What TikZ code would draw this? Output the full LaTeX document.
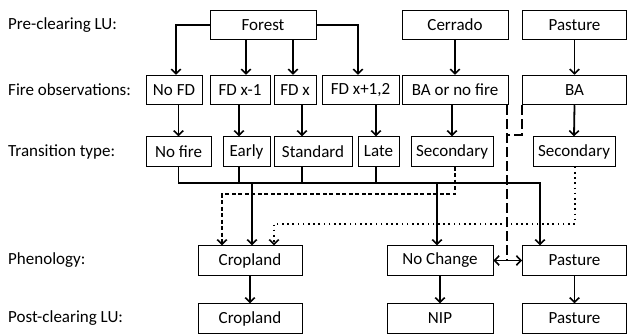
\documentclass[tikz,border=0pt]{standalone}
\usepackage{fontspec}
\setmainfont{Carlito}
\usetikzlibrary{arrows.meta}
\begin{document}
\begin{tikzpicture}[x=1pt,y=-1pt,
  box/.style={draw,line width=1pt,minimum height=29.5pt,inner sep=0pt,font=\fontsize{17}{19}\selectfont},
  lab/.style={anchor=west,inner sep=0pt,font=\fontsize{17}{19}\selectfont},
  conn/.style={line width=1.8pt},
  arr/.style={conn,-{Straight Barb[length=4.5pt,width=9.5pt,line width=1.6pt]}},
  dsh/.style={arr,dash pattern=on 4pt off 2.5pt},
  dts/.style={arr,dash pattern=on 1.6pt off 3.6pt},
  ldsh/.style={conn,dash pattern=on 10pt off 4pt},
  darr/.style={conn,{Straight Barb[length=4.5pt,width=9.5pt,line width=1.6pt]}-{Straight Barb[length=4.5pt,width=9.5pt,line width=1.6pt]}}]
\useasboundingbox (0,0) rectangle (627,336);
% labels
\node[lab] (l1) at (8,25) {Pre-clearing LU:};
\node[lab] (l2) at (8,90) {Fire observations:};
\node[lab] (l3) at (8,151.5) {Transition type:};
\node[lab] (l4) at (8,260.5) {Phenology:};
\node[lab] (l5) at (8,318.5) {Post-clearing LU:};
% row 1
\node[box,minimum width=106pt] (forest) at (263,25) {Forest};
\node[box,minimum width=106pt] (cerrado) at (455,25) {Cerrado};
\node[box,minimum width=104pt] (pasture) at (574.5,25) {Pasture};
% row 2
\node[box,minimum width=56pt] (nofd) at (174,90) {No FD};
\node[box,minimum width=60pt] (fdx1) at (240,90) {FD x-1};
\node[box,minimum width=42pt] (fdx) at (295,90) {FD x};
\node[box,minimum width=77pt] (fdx12) at (360.5,90) {FD x+1,2};
\node[box,minimum width=106pt] (banf) at (455,90) {BA or no fire};
\node[box,minimum width=104pt] (ba) at (574.5,90) {BA};
% row 3
\node[box,minimum width=65pt] (nofire) at (178.5,151.5) {No fire};
\node[box,minimum width=47pt] (early) at (246.5,151.5) {Early};
\node[box,minimum width=78pt] (standard) at (313,151.5) {Standard};
\node[box,minimum width=41pt] (late) at (378.5,151.5) {Late};
\node[box,minimum width=82pt] (sec) at (452,151.5) {Secondary};
\node[box,minimum width=82pt] (sec2) at (574,151.5) {Secondary};
% row 4
\node[box,minimum width=104pt] (cropp) at (250,260.5) {Cropland};
\node[box,minimum width=106pt] (nochange) at (440,260.5) {No Change};
\node[box,minimum width=104pt] (pastp) at (574.5,260.5) {Pasture};
% row 5
\node[box,minimum width=104pt] (cropl) at (250,318.5) {Cropland};
\node[box,minimum width=106pt] (nip) at (440,318.5) {NIP};
\node[box,minimum width=104pt] (pastl) at (574.5,318.5) {Pasture};
% row 1 -> row 2
\draw[arr] (forest.west) -| ([xshift=2pt]nofd.north);
\draw[arr] ([xshift=6pt]fdx1.north |- forest.south) -- ([xshift=6pt]fdx1.north);
\draw[arr] ([xshift=-2pt]fdx.north |- forest.south) -- ([xshift=-2pt]fdx.north);
\draw[arr] (forest.east) -| ([xshift=-2.5pt]fdx12.north);
\draw[arr] (banf.north |- cerrado.south) -- (banf.north);
\draw[arr] (pasture.south) -- (ba.north);
% row 2 -> row 3
\draw[arr] (nofire.north |- nofd.south) -- (nofire.north);
\draw[arr] ([xshift=-1pt]fdx1.south) -- ([xshift=-1pt]fdx1.south |- early.north);
\draw[arr] ([xshift=7pt]fdx.south) -- ([xshift=7pt]fdx.south |- standard.north);
\draw[arr] ([xshift=-2.5pt]late.north |- fdx12.south) -- ([xshift=-2.5pt]late.north);
\draw[arr] (sec.north |- banf.south) -- (sec.north);
\draw[arr] (ba.south) -- (sec2.north);
% bus
\coordinate (bus) at ([yshift=-16pt]nofire.south);
\draw[arr] (nofire.south) -- (bus) -| ([xshift=-34.5pt]pastp.north);
\draw[conn] ([xshift=-7.5pt]early.south) -- ([xshift=-7.5pt]early.south |- bus);
\draw[conn] ([xshift=-11pt]standard.south) -- ([xshift=-11pt]standard.south |- bus);
\draw[conn] ([xshift=-2.5pt]late.south) -- ([xshift=-2.5pt]late.south |- bus);
\draw[arr] ([xshift=2pt]cropp.north |- bus) -- ([xshift=2pt]cropp.north);
\draw[arr] ([xshift=-3pt]nochange.north |- bus) -- ([xshift=-3pt]nochange.north);
% dashed secondary
\draw[dsh] ([xshift=3pt]sec.south) -- ++(0,27.5) -| ([xshift=-28pt]cropp.north);
% dotted secondary
\draw[dts] ([xshift=1pt]sec2.south) -- ++(0,57) -| ([xshift=24pt]cropp.north);
% long dashed
\coordinate (j1) at ([xshift=52pt,yshift=-30pt]banf.south);
\draw[ldsh] ([xshift=52pt]banf.south) -- (j1 |- nochange.east);
\draw[ldsh] ([xshift=-52.5pt]ba.south) |- (j1);
\draw[darr] (nochange.east) -- (pastp.west);
% row 4 -> row 5
\draw[arr] (cropp.south) -- (cropl.north);
\draw[arr] (nochange.south) -- (nip.north);
\draw[arr] (pastp.south) -- (pastl.north);
\end{tikzpicture}
\end{document}
